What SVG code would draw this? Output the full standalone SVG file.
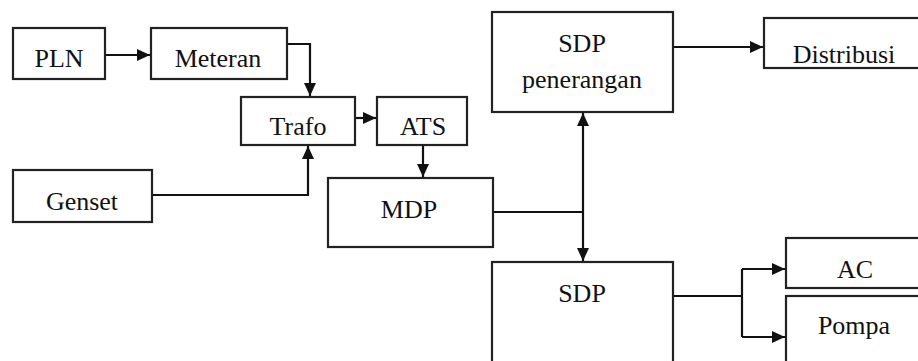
<svg xmlns="http://www.w3.org/2000/svg" width="918" height="361" viewBox="0 0 918 361">
<style>
rect{fill:#fff;stroke:#222;stroke-width:2.2}
text{font-family:'Liberation Serif','Times New Roman',serif !important;font-size:26px;fill:#111;text-anchor:middle}
.c{fill:none;stroke:#111;stroke-width:2.2}
</style>
<defs>
<marker id="a" markerUnits="userSpaceOnUse" markerWidth="14" markerHeight="12" refX="13" refY="6" orient="auto">
<path d="M0,0 L13,6 L0,12 Z" fill="#111"/>
</marker>
</defs>
<rect width="918" height="361" style="fill:#fff;stroke:none"/>
<g id="connectors">
<path class="c" d="M105,55 H150" marker-end="url(#a)"/>
<path class="c" d="M287,44 H310 V96" marker-end="url(#a)"/>
<path class="c" d="M152,195 H308 V146" marker-end="url(#a)"/>
<path class="c" d="M355,118 H376" marker-end="url(#a)"/>
<path class="c" d="M423,145 V177" marker-end="url(#a)"/>
<path class="c" d="M493,212 H583"/>
<path class="c" d="M583,212 V113" marker-end="url(#a)"/>
<path class="c" d="M583,212 V261" marker-end="url(#a)"/>
<path class="c" d="M673,47 H763" marker-end="url(#a)"/>
<path class="c" d="M673,296 H742"/>
<path class="c" d="M742,269 V337"/>
<path class="c" d="M742,269 H785" marker-end="url(#a)"/>
<path class="c" d="M742,337 H785" marker-end="url(#a)"/>
</g>
<g id="pln"><rect x="13" y="28" width="92" height="51"/><text x="59" y="67" font-family="Liberation Serif">PLN</text></g>
<g id="meteran"><rect x="151" y="28" width="136" height="51"/><text x="218" y="67" font-family="Liberation Serif">Meteran</text></g>
<g id="trafo"><rect x="241" y="97" width="114" height="48"/><text x="298" y="135" font-family="Liberation Serif">Trafo</text></g>
<g id="ats"><rect x="377" y="97" width="90" height="48"/><text x="423" y="135" font-family="Liberation Serif">ATS</text></g>
<g id="genset"><rect x="13" y="170" width="139" height="52"/><text x="82" y="210" font-family="Liberation Serif">Genset</text></g>
<g id="mdp"><rect x="328" y="178" width="165" height="69"/><text x="409" y="218" font-family="Liberation Serif">MDP</text></g>
<g id="sdp-penerangan"><rect x="492" y="12" width="181" height="100"/><text x="582" y="52" font-family="Liberation Serif">SDP</text><text x="582" y="88" font-family="Liberation Serif">penerangan</text></g>
<g id="distribusi"><rect x="764" y="18" width="170" height="50"/><text x="844" y="63" font-family="Liberation Serif">Distribusi</text></g>
<g id="sdp"><rect x="492" y="262" width="181" height="110"/><text x="582" y="302" font-family="Liberation Serif">SDP</text></g>
<g id="ac"><rect x="786" y="238" width="150" height="50"/><text x="855" y="278" font-family="Liberation Serif">AC</text></g>
<g id="pompa"><rect x="786" y="296" width="150" height="80"/><text x="854" y="334" font-family="Liberation Serif">Pompa</text></g>
</svg>
